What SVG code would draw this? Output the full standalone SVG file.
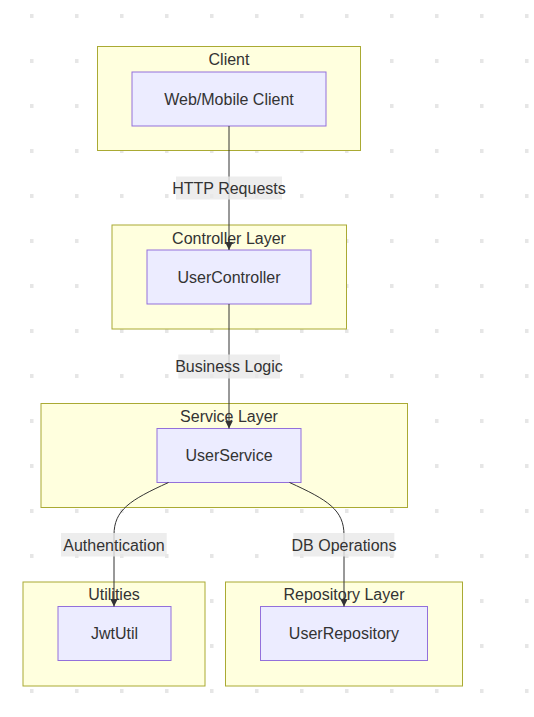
<svg xmlns="http://www.w3.org/2000/svg" width="534" height="717" viewBox="0 0 534 717">
<style>
.cluster{fill:#ffffde;stroke:#aaaa33;stroke-width:1}
.node{fill:#ececff;stroke:#9370db;stroke-width:1}
text{font-family:"Trebuchet MS","Liberation Sans",Arial,sans-serif;font-size:16px;fill:#333;text-anchor:middle}
.c{dominant-baseline:central}
.edge{fill:none;stroke:#333;stroke-width:1}
.lbl{fill:#e8e8e8;fill-opacity:0.8}
</style>
<defs>
<pattern id="grid" patternUnits="userSpaceOnUse" x="30" y="14" width="45" height="45">
<rect x="0" y="0" width="3.5" height="4" fill="#e6e6e6"/>
</pattern>
<marker id="arrow" viewBox="0 0 10 10" refX="10" refY="5" markerWidth="8" markerHeight="8" markerUnits="userSpaceOnUse" orient="auto">
<path d="M0,0 L10,5 L0,10 z" fill="#333"/>
</marker>
</defs>
<rect width="534" height="717" fill="#ffffff"/>
<rect width="534" height="717" fill="url(#grid)"/>

<g id="cluster-client">
<rect class="cluster" x="97.5" y="46.5" width="263" height="104"/>
<text x="229" y="65">Client</text>
</g>
<g id="cluster-controller">
<rect class="cluster" x="112" y="225" width="234.5" height="104"/>
<text x="229" y="243.5">Controller Layer</text>
</g>
<g id="cluster-service">
<rect class="cluster" x="41" y="403.5" width="366.5" height="104"/>
<text x="229" y="421.5">Service Layer</text>
</g>
<g id="cluster-utilities">
<rect class="cluster" x="23" y="582" width="182" height="104"/>
<text x="114" y="600">Utilities</text>
</g>
<g id="cluster-repository">
<rect class="cluster" x="225.5" y="582" width="237" height="104"/>
<text x="344" y="600">Repository Layer</text>
</g>

<g id="node-client">
<rect class="node" x="132" y="72" width="194" height="54"/>
<text class="c" x="229" y="99">Web/Mobile Client</text>
</g>
<g id="node-usercontroller">
<rect class="node" x="147" y="250" width="164" height="54"/>
<text class="c" x="229" y="277">UserController</text>
</g>
<g id="node-userservice">
<rect class="node" x="157" y="428.5" width="144" height="54"/>
<text class="c" x="229" y="455.5">UserService</text>
</g>
<g id="node-jwtutil">
<rect class="node" x="58" y="606.5" width="113" height="54"/>
<text class="c" x="114.5" y="633.5">JwtUtil</text>
</g>
<g id="node-userrepository">
<rect class="node" x="260.5" y="606.5" width="167" height="54"/>
<text class="c" x="344" y="633.5">UserRepository</text>
</g>

<g id="connectors">
<path class="edge" d="M229,126 L229,250" marker-end="url(#arrow)"/>
<path class="edge" d="M229,304 L229,428.5" marker-end="url(#arrow)"/>
<path class="edge" d="M168.5,482.5 C130,500 114,510 114,535 L114,606.5" marker-end="url(#arrow)"/>
<path class="edge" d="M289.5,482.5 C328,500 344,510 344,535 L344,606.5" marker-end="url(#arrow)"/>
<g id="edge-labels">
<rect class="lbl" x="176" y="176.5" width="106" height="23"/>
<text class="c" x="229" y="188">HTTP Requests</text>
<rect class="lbl" x="178.3" y="354.5" width="101.7" height="24"/>
<text class="c" x="229" y="366.5">Business Logic</text>
<rect class="lbl" x="61" y="533" width="105.7" height="23.5"/>
<text class="c" x="114" y="545">Authentication</text>
<rect class="lbl" x="293.3" y="533" width="101" height="23.5"/>
<text class="c" x="344" y="545">DB Operations</text>
</g>
</g>
</svg>
